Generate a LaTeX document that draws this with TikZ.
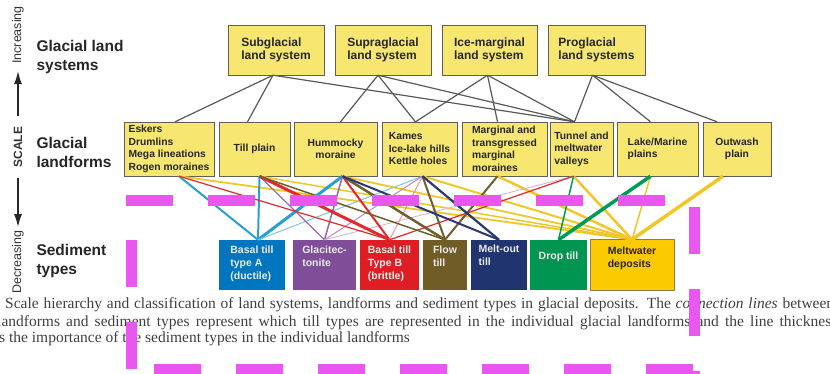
\documentclass[tikz,border=0pt]{standalone}
\usepackage{fontspec}
\setmainfont{Liberation Serif}
\setsansfont{Liberation Sans}
\usetikzlibrary{arrows.meta}

\definecolor{boxyellow}{RGB}{247,231,112}
\definecolor{boxline}{RGB}{95,95,85}
\definecolor{tillA}{RGB}{0,118,192}
\definecolor{tillAline}{RGB}{40,160,210}
\definecolor{glacitec}{RGB}{128,78,152}
\definecolor{glacline}{RGB}{150,105,170}
\definecolor{tillB}{RGB}{222,30,36}
\definecolor{tillBline}{RGB}{225,40,45}
\definecolor{flowtill}{RGB}{112,92,38}
\definecolor{flowline}{RGB}{110,95,45}
\definecolor{meltout}{RGB}{32,52,112}
\definecolor{meltoutline}{RGB}{40,55,120}
\definecolor{droptill}{RGB}{0,150,82}
\definecolor{dropline}{RGB}{0,155,85}
\definecolor{meltwater}{RGB}{252,202,0}
\definecolor{meltline}{RGB}{240,198,40}
\definecolor{overlay}{RGB}{234,86,240}

\begin{document}
\begin{tikzpicture}[x=1pt, y=-1pt,
sysbox/.style={draw=boxline, fill=boxyellow, minimum height=50, align=left, inner sep=2,
  font=\sffamily\bfseries\fontsize{12}{13}\selectfont, text=black!85},
landbox/.style={draw=boxline, fill=boxyellow, minimum height=54, align=left, inner sep=2,
  font=\sffamily\bfseries\fontsize{10.3}{12.5}\selectfont, text=black!85},
sedbox/.style={fill=#1, minimum height=50, inner sep=0},
sedtext/.style={anchor=north, align=left, inner sep=0,
  font=\sffamily\bfseries\fontsize{10.5}{13}\selectfont, text=black!8},
rowlabel/.style={anchor=west, align=left, font=\sffamily\bfseries\fontsize{15.5}{19}\selectfont, text=black!85},
scalelabel/.style={rotate=90, inner xsep=3, font=\sffamily\fontsize{12.5}{14}\selectfont, text=black!80},
scalearrow/.style={line width=1.6, black!85, -{Latex[length=13pt, width=8pt]}},
sysline/.style={draw=black!65, line width=1.2},
link/.style={line width=#1},
caption/.style={anchor=base west, inner sep=0, font=\fontsize{15.5}{17}\selectfont, text=black!75},
overlaydash/.style={draw=overlay, line width=11, dash pattern=on 47 off 35}]
\clip (0,0) rectangle (830,374);

% scale axis on the left
\node[scalelabel] (incr) at (18,35) {Increasing};
\node[scalelabel, inner xsep=10, font=\sffamily\bfseries\fontsize{12}{14}\selectfont] (scale) at (18,147) {SCALE};
\node[scalelabel] (decr) at (18,262) {Decreasing};
\draw[scalearrow, shorten >=4] (scale) -- (incr);
\draw[scalearrow] (scale) -- (decr);

\node[rowlabel] (lsys) at (33,57) {Glacial land\\systems};
\node[rowlabel] (lform) at (33,152) {Glacial\\landforms};
\node[rowlabel] (lsed) at (33,261) {Sediment\\types};

% land systems
\node[sysbox, minimum width=96] (subg) at (276,50) {Subglacial\\land system};
\node[sysbox, minimum width=96] (supra) at (383,50) {Supraglacial\\land system};
\node[sysbox, minimum width=95] (icem) at (489.5,50) {Ice-marginal\\land system};
\node[sysbox, minimum width=97] (progl) at (596.5,50) {Proglacial\\land systems};

% landforms
\node[landbox, minimum width=90] (eskers) at (169,149) {Eskers\\Drumlins\\Mega lineations\\Rogen moraines};
\node[landbox, minimum width=71] (tillplain) at (254.5,149) {Till plain};
\node[landbox, minimum width=83, align=center] (hummocky) at (335.5,149) {Hummocky\\moraine};
\node[landbox, minimum width=75] (kames) at (419.5,149) {Kames\\Ice-lake hills\\Kettle holes};
\node[landbox, minimum width=85] (marginal) at (504.5,149) {Marginal and\\transgressed\\marginal\\moraines};
\node[landbox, minimum width=63] (tunnel) at (581.5,149) {Tunnel and\\meltwater\\valleys};
\node[landbox, minimum width=81] (lake) at (657.5,149) {Lake/Marine\\plains};
\node[landbox, minimum width=68, align=center] (outwash) at (737,149) {Outwash\\plain};

% sediment types
\node[sedbox=tillA, minimum width=66] (basalA) at (252,265) {};
\node[sedbox=glacitec, minimum width=63] (glacit) at (324.5,265) {};
\node[sedbox=tillB, minimum width=59] (basalB) at (389.5,265) {};
\node[sedbox=flowtill, minimum width=44] (flow) at (445,265) {};
\node[sedbox=meltout, minimum width=56] (meltout) at (499,265) {};
\node[sedbox=droptill, minimum width=57] (drop) at (558.5,265) {};
\node[sedbox=meltwater, draw=flowtill!80, line width=1, minimum width=84] (meltw) at (632,265) {};
\node[sedtext] (basalAtxt) at ([yshift=-6]basalA.north) {Basal till\\type A\\(ductile)};
\node[sedtext] (glacittxt) at ([yshift=-6]glacit.north) {Glacitec-\\tonite};
\node[sedtext] (basalBtxt) at ([yshift=-6]basalB.north) {Basal till\\Type B\\(brittle)};
\node[sedtext] (flowtxt) at ([yshift=-6]flow.north) {Flow\\till};
\node[sedtext] (meltouttxt) at ([yshift=-5]meltout.north) {Melt-out\\till};
\node[sedtext] (droptxt) at ([yshift=-12]drop.north) {Drop till};
\node[sedtext, text=black!85] (meltwtxt) at ([yshift=-7]meltw.north) {Meltwater\\deposits};

% ports on the landform boxes
\coordinate (eskers-t) at ([xshift=6]eskers.north);
\coordinate (eskers-b) at ([xshift=10]eskers.south);
\coordinate (tillplain-t) at ([xshift=-7]tillplain.north);
\coordinate (tillplain-b) at ([xshift=5]tillplain.south);
\coordinate (hummocky-t) at ([xshift=5]hummocky.north);
\coordinate (hummocky-b) at ([xshift=7]hummocky.south);
\coordinate (kames-t) at ([xshift=-4]kames.north);
\coordinate (kames-b) at ([xshift=3]kames.south);
\coordinate (marginal-t) at ([xshift=-7]marginal.north);
\coordinate (marginal-b) at ([xshift=-7]marginal.south);
\coordinate (tunnel-t) at ([xshift=-7]tunnel.north);
\coordinate (tunnel-b) at ([xshift=-8]tunnel.south);
\coordinate (lake-t) at ([xshift=-7]lake.north);
\coordinate (lake-b) at ([xshift=-7]lake.south);
\coordinate (outwash-t) at ([xshift=-20]outwash.north);
\coordinate (outwash-b) at ([xshift=-14]outwash.south);
\coordinate (basalA-t) at ([xshift=6]basalA.north);

% systems to landforms
\draw[sysline] ([xshift=-3]subg.south) -- (eskers-t);
\draw[sysline] ([xshift=-3]subg.south) -- (tillplain-t);
\draw[sysline] ([xshift=-3]subg.south) -- (tunnel-t);
\draw[sysline] ([xshift=-5]supra.south) -- (hummocky-t);
\draw[sysline] ([xshift=-5]supra.south) -- (kames-t);
\draw[sysline] ([xshift=-5]supra.south) -- (tunnel-t);
\draw[sysline] ([xshift=-2]icem.south) -- (kames-t);
\draw[sysline] ([xshift=-2]icem.south) -- (marginal-t);
\draw[sysline] ([xshift=-2]icem.south) -- (tunnel-t);
\draw[sysline] ([xshift=-4]progl.south) -- (tunnel-t);
\draw[sysline] ([xshift=-4]progl.south) -- (lake-t);
\draw[sysline] ([xshift=-4]progl.south) -- (outwash-t);

% landforms to sediment types, width = importance
\draw[link=1.8, meltline] (eskers-b) -- (meltw.north);
\draw[link=1.5, meltline] (tillplain-b) -- (meltw.north);
\draw[link=1.8, meltline] (hummocky-b) -- (meltw.north);
\draw[link=2, meltline] (kames-b) -- (meltw.north);
\draw[link=2.5, meltline] (marginal-b) -- (meltw.north);
\draw[link=2.5, meltline] (tunnel-b) -- (meltw.north);
\draw[link=1.5, meltline] (lake-b) -- (meltw.north);
\draw[link=3.5, meltline] (outwash-b) -- (meltw.north);
\draw[link=2, tillAline] (eskers-b) -- (basalA-t);
\draw[link=2, tillAline] (tillplain-b) -- (basalA-t);
\draw[link=3, tillAline] (hummocky-b) -- (basalA-t);
\draw[link=1, tillAline!60] (kames-b) -- (basalA-t);
\draw[link=1.2, glacline] (tillplain-b) -- (glacit.north);
\draw[link=1.5, glacline] (hummocky-b) -- (glacit.north);
\draw[link=1, glacline!60!pink] (kames-b) -- (glacit.north);
\draw[link=0.8, glacline!50] (tunnel-b) -- (glacit.north);
\draw[link=1.2, tillBline] (eskers-b) -- (basalB.north);
\draw[link=3, tillBline] (tillplain-b) -- (basalB.north);
\draw[link=2, tillBline] (hummocky-b) -- (basalB.north);
\draw[link=1, tillBline!50] (kames-b) -- (basalB.north);
\draw[link=1.2, tillBline] (tunnel-b) -- (basalB.north);
\draw[link=1.5, flowline] (tillplain-b) -- (flow.north);
\draw[link=2.5, flowline] (hummocky-b) -- (flow.north);
\draw[link=2, flowline] (kames-b) -- (flow.north);
\draw[link=2, flowline] (marginal-b) -- (flow.north);
\draw[link=2, meltoutline] (hummocky-b) -- (meltout.north);
\draw[link=2.2, meltoutline] (kames-b) -- (meltout.north);
\draw[link=1.5, dropline] (tunnel-b) -- (drop.north);
\draw[link=3.5, dropline] (lake-b) -- (drop.north);

% caption
\node[caption] (cap1) at (5,308) {\makebox[829pt][s]{Scale hierarchy and classification of land systems, landforms and sediment types in glacial deposits. The \textit{connection lines} between}};
\node[caption] (cap2) at (-3,326) {\makebox[840pt][s]{landforms and sediment types represent which till types are represented in the individual glacial landforms and the line thickness}};
\node[caption] (cap3) at (-1,342) {s the importance of the sediment types in the individual landforms};

% dashed overlay frame
\draw[overlaydash] (126,201) -- (700,201);
\draw[overlaydash, dash phase=43] (131,201) -- (131,374);
\draw[overlaydash, dash phase=76] (694,201) -- (694,374);
\draw[overlaydash, dash phase=54] (126,369) -- (700,369);
\end{tikzpicture}
\end{document}
